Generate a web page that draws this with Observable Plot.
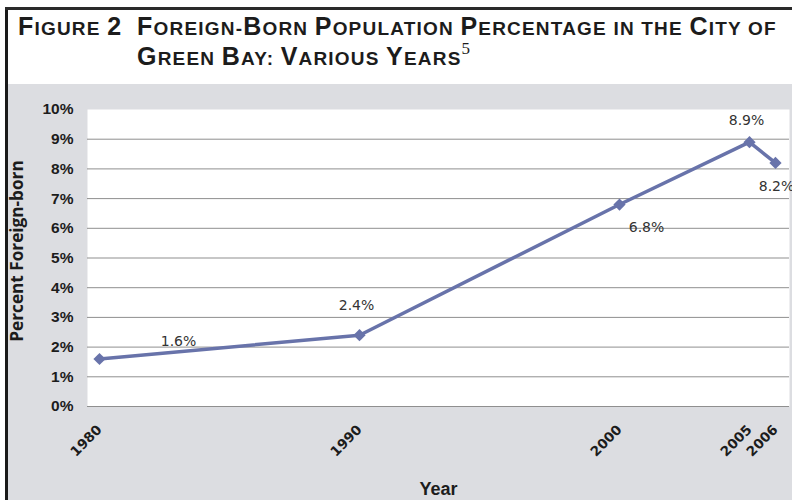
<!DOCTYPE html>
<html>
<head>
<meta charset="utf-8">
<script src="https://cdn.jsdelivr.net/npm/d3@7"></script>
<script src="https://cdn.jsdelivr.net/npm/@observablehq/plot@0.6"></script>
<style>
  html, body { margin: 0; padding: 0; background: #ffffff; }
  #figure { position: relative; width: 792px; height: 500px; overflow: hidden; background: #ffffff; }
  #border-left { position: absolute; left: 5px; top: 7px; width: 3px; height: 493px; background: #1a1a1a; }
  #border-top { position: absolute; left: 5px; top: 7px; width: 787px; height: 3px; background: #2a2a2a; }
  #panel { position: absolute; left: 8px; top: 84px; width: 784px; height: 416px; background: #dcdde1; }
  .title { position: absolute; font-family: "Liberation Sans", Arial, sans-serif; font-weight: bold;
           font-size: 19px; color: #1c1c1c; white-space: nowrap; letter-spacing: 1.2px; line-height: 1; }
  .title .cap { font-size: 25px; }
  .title sup { font-family: "Liberation Serif", "Times New Roman", serif; font-weight: normal;
               font-size: 17px; letter-spacing: 0; position: relative; top: -4px; }
  #y-title { position: absolute; left: 17px; top: 251px; transform: translate(-50%, -50%) rotate(-90deg);
             font-family: "Open Sans", "DejaVu Sans", sans-serif; font-weight: bold; font-size: 17.2px; color: #1c1c1c;
             white-space: nowrap; line-height: 1; }
  #chart { position: absolute; left: 8px; top: 84px; }
</style>
</head>
<body>
<div id="figure">
  <div id="border-left"></div>
  <div id="border-top"></div>
  <div class="title" style="left:18px; top:14px;"><span class="cap">F</span>IGURE <span class="cap">2</span></div>
  <div class="title" style="left:137px; top:14px;"><span class="cap">F</span>OREIGN-<span class="cap">B</span>ORN <span class="cap">P</span>OPULATION <span class="cap">P</span>ERCENTAGE IN THE <span class="cap">C</span>ITY OF</div>
  <div class="title" style="left:137px; top:44px;"><span class="cap">G</span>REEN <span class="cap">B</span>AY: <span class="cap">V</span>ARIOUS <span class="cap">Y</span>EARS<sup>5</sup></div>
  <div id="panel"></div>
  <div id="chart"></div>
  <div id="y-title"></div>
</div>
<script>
// Share of Green Bay residents born abroad, by census / survey year
const years = [1980, 1990, 2000, 2005, 2006];
const percentForeignBorn = [1.6, 2.4, 6.8, 8.9, 8.2];
const yTicks = [0, 1, 2, 3, 4, 5, 6, 7, 8, 9, 10];
const gridLevels = [0, 1, 2, 3, 4, 5, 6, 7, 8, 9];
const yTitle = "Percent Foreign-born";
const xTitle = "Year";

document.getElementById("y-title").textContent = yTitle;

const rows = years.map((year, i) => ({year, pct: percentForeignBorn[i]}));
const pctLabel = d => d.pct.toFixed(1) + "%";
const lineColor = "#6873aa";
const labelFont = {fontFamily: "DejaVu Sans, sans-serif", fontSize: 14, fill: "#333333"};

// one value label per point, nudged off the line
const valueLabel = (year, dx, dy) =>
  Plot.text(rows.filter(d => d.year === year), {x: "year", y: "pct", text: pctLabel, dx, dy, ...labelFont});

const chart = Plot.plot({
  width: 784,
  height: 416,
  marginLeft: 79,
  marginRight: 3,
  marginTop: 25,
  marginBottom: 94,
  style: {background: "transparent", overflow: "visible"},
  x: {domain: [1980, 2006], insetLeft: 12, insetRight: 14},
  y: {domain: [0, 10]},
  marks: [
    Plot.frame({fill: "#ffffff", stroke: null}),
    Plot.ruleY(gridLevels, {stroke: "#8f8f8f", strokeWidth: 1}),
    Plot.axisY({
      ticks: yTicks, tickFormat: d => d + "%", tickSize: 0, tickPadding: 14, label: null,
      fontSize: 15.5, fontWeight: "bold", fontFamily: "Liberation Sans, Arial, sans-serif", fill: "#1c1c1c"
    }),
    Plot.axisX({
      ticks: years, tickFormat: d => String(d), tickSize: 0, tickPadding: 21, tickRotate: -45, label: null,
      fontSize: 13.5, fontWeight: "bold", fontFamily: "DejaVu Sans, sans-serif", fill: "#1c1c1c"
    }),
    Plot.text([xTitle], {
      frameAnchor: "bottom", dy: 88,
      fontSize: 18, fontWeight: "bold", fontFamily: "Liberation Sans, Arial, sans-serif", fill: "#1c1c1c"
    }),
    Plot.line(rows, {x: "year", y: "pct", stroke: lineColor, strokeWidth: 3.5}),
    Plot.dot(rows, {x: "year", y: "pct", symbol: "diamond2", r: 5.5, fill: lineColor, stroke: null}),
    valueLabel(1980, 79, -17),
    valueLabel(1990, -3, -30),
    valueLabel(2000, 27, 23),
    valueLabel(2005, -3, -22),
    valueLabel(2006, 1, 24)
  ]
});

document.getElementById("chart").appendChild(chart);
</script>
</body>
</html>
